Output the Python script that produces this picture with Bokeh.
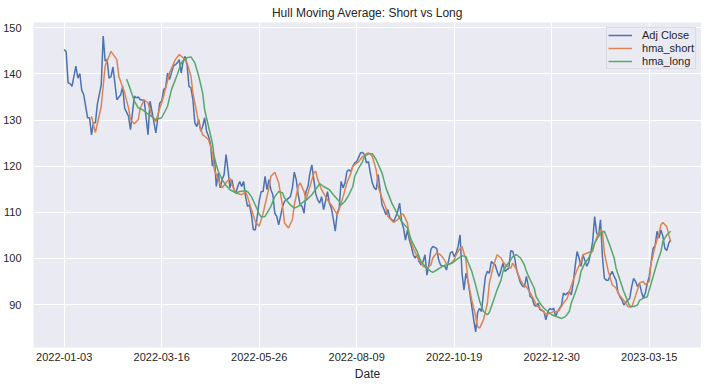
from bokeh.plotting import figure
from bokeh.models import Range1d, FixedTicker, Legend, LegendItem
from bokeh.embed import file_html
from bokeh.resources import INLINE

title_text = "Hull Moving Average: Short vs Long"
x_label = "Date"

tick_pos = [0, 50, 100, 150, 200, 250, 300]
tick_labels = ["2022-01-03", "2022-03-16", "2022-05-26", "2022-08-09",
               "2022-10-19", "2022-12-30", "2023-03-15"]
y_ticks = [90, 100, 110, 120, 130, 140, 150]

close_idx = [0, 1, 2, 3, 4, 6, 7, 8, 9, 10, 12, 13, 14, 15, 16, 17, 19, 20, 21, 22,
             23, 24, 25, 27, 29, 30, 31, 33, 34, 36, 37, 38, 39, 41, 43, 44, 45, 47, 48, 49,
             50, 51, 52, 53, 54, 56, 57, 58, 59, 60, 61, 62, 63, 64, 65, 66, 67, 68, 69, 70,
             71, 72, 73, 74, 75, 76, 77, 78, 79, 80, 81, 82, 83, 84, 85, 86, 87, 88, 89, 90,
             91, 92, 93, 94, 95, 96, 97, 98, 99, 100, 101, 102, 103, 104, 105, 106, 107, 108, 109, 110,
             112, 113, 114, 116, 117, 118, 119, 120, 121, 122, 123, 124, 125, 126, 127, 128, 129, 130, 131, 132,
             133, 134, 135, 136, 137, 138, 139, 140, 141, 142, 143, 144, 145, 146, 147, 148, 149, 150, 152, 153,
             154, 155, 156, 157, 158, 159, 160, 161, 162, 163, 164, 165, 166, 167, 169, 170, 171, 172, 173, 174,
             175, 176, 177, 178, 179, 180, 181, 182, 183, 184, 185, 186, 187, 188, 189, 191, 192, 193, 194, 195,
             196, 197, 198, 199, 200, 201, 202, 203, 204, 205, 206, 207, 208, 209, 210, 211, 212, 213, 214, 215,
             216, 217, 218, 219, 221, 222, 223, 224, 225, 226, 228, 229, 230, 231, 232, 233, 234, 235, 236, 237,
             238, 239, 240, 241, 242, 243, 244, 246, 247, 248, 249, 250, 251, 252, 253, 254, 255, 256, 257, 259,
             260, 261, 262, 263, 264, 265, 266, 268, 269, 270, 271, 272, 273, 274, 275, 276, 277, 278, 279, 280,
             281, 282, 283, 284, 285, 286, 287, 288, 290, 291, 292, 293, 294, 295, 296, 297, 298, 299, 300, 301,
             302, 303, 304, 305, 306, 307, 308, 309, 310, 311]
close_val = [145.3, 144.8, 138.1, 137.9, 137.3, 141.7, 139.1, 140.1, 136.5, 135.5, 130.5, 130.5, 126.8, 129.4, 129.4, 133.4, 137.7, 148.2, 142.8, 143.1,
             139.1, 139.4, 141.5, 134.4, 135.5, 137.3, 132.6, 130.8, 127.9, 135.2, 134.8, 135.0, 134.4, 134.3, 126.8, 134.1, 131.9, 127.2, 130.5, 133.7,
             134.1, 136.6, 137.0, 140.2, 138.8, 141.7, 142.0, 142.4, 143.1, 140.2, 142.8, 143.8, 142.0, 137.3, 137.0, 134.4, 129.4, 128.6, 130.1, 127.6,
             128.6, 130.5, 127.6, 126.5, 125.0, 120.0, 122.1, 115.6, 118.5, 115.3, 117.1, 118.2, 122.5, 119.2, 115.3, 117.1, 114.9, 114.2, 115.6, 116.7,
             115.6, 116.7, 113.4, 111.3, 111.6, 109.5, 106.2, 106.2, 109.1, 112.5, 114.5, 114.5, 117.8, 114.9, 117.1, 114.9, 113.8, 109.8, 109.1, 107.3,
             111.3, 112.4, 112.7, 113.4, 115.3, 118.7, 117.1, 113.8, 111.6, 111.3, 109.8, 114.5, 115.6, 118.5, 120.3, 117.1, 114.0, 112.7, 112.0, 113.4,
             110.6, 112.4, 114.5, 112.0, 110.9, 108.6, 105.9, 109.8, 110.9, 116.7, 115.3, 116.4, 118.9, 119.2, 118.9, 120.0, 120.7, 121.0, 122.9, 123.0,
             122.5, 120.7, 121.0, 118.5, 116.4, 115.3, 114.9, 118.2, 114.9, 111.6, 110.6, 109.5, 110.6, 108.8, 108.0, 109.1, 110.2, 112.0, 108.0, 106.6,
             104.0, 106.2, 104.0, 102.6, 100.8, 100.1, 100.8, 99.3, 98.6, 99.3, 100.8, 96.4, 98.6, 101.9, 102.6, 102.2, 99.7, 98.6, 98.3, 98.5,
             97.5, 99.3, 101.2, 101.5, 100.4, 101.2, 102.6, 105.1, 96.8, 93.2, 96.8, 95.3, 92.5, 89.6, 86.7, 84.1, 88.3, 89.2, 88.5, 92.5,
             96.1, 97.2, 96.8, 99.3, 98.6, 97.2, 96.1, 97.5, 99.0, 97.2, 97.9, 101.7, 101.5, 100.1, 97.5, 96.1, 94.7, 94.0, 93.8, 96.1,
             94.0, 91.7, 91.4, 89.9, 89.6, 90.3, 88.9, 88.5, 86.7, 88.5, 89.2, 88.9, 89.2, 87.4, 88.5, 89.2, 89.9, 92.5, 92.1, 92.8,
             92.1, 94.6, 98.3, 101.5, 100.1, 98.3, 100.8, 98.3, 99.3, 101.2, 103.7, 109.1, 105.6, 104.8, 108.4, 100.4, 95.7, 95.3, 95.3, 96.4,
             97.2, 96.1, 95.3, 92.6, 91.7, 91.0, 89.9, 90.5, 91.4, 93.9, 95.7, 95.0, 93.9, 94.6, 92.8, 91.4, 92.5, 94.6, 96.1, 99.3,
             102.2, 102.7, 105.9, 104.4, 106.2, 104.8, 102.2, 101.7, 103.3, 104.0]

short_idx = [14, 16, 19, 21, 24, 27, 28, 31, 33, 34, 36, 38, 39, 41, 43, 45, 47, 51, 54, 57,
             59, 61, 63, 65, 66, 69, 71, 72, 74, 76, 77, 79, 81, 83, 85, 86, 88, 91, 93, 94,
             96, 98, 100, 102, 105, 106, 108, 110, 112, 113, 115, 117, 118, 120, 121, 123, 124, 126, 128, 129,
             130, 132, 134, 135, 137, 139, 140, 141, 143, 145, 147, 148, 151, 153, 155, 156, 158, 160, 161, 163,
             165, 166, 169, 171, 173, 174, 176, 177, 179, 181, 183, 184, 186, 188, 189, 191, 193, 195, 196, 198,
             200, 201, 203, 204, 206, 207, 209, 211, 212, 213, 215, 217, 218, 220, 222, 224, 225, 227, 229, 230,
             232, 234, 236, 237, 239, 241, 242, 244, 246, 247, 249, 251, 253, 254, 256, 258, 259, 261, 263, 265,
             266, 269, 271, 272, 274, 275, 276, 277, 279, 281, 283, 284, 286, 288, 289, 291, 292, 294, 295, 297,
             298, 300, 301, 303, 305, 306, 307, 309, 310, 311]
short_val = [130.8, 127.3, 133.0, 141.7, 144.9, 143.1, 139.5, 135.9, 132.6, 130.1, 129.2, 130.1, 132.6, 134.4, 133.7, 130.8, 129.7, 135.2, 140.2, 143.1,
             144.2, 143.5, 142.4, 139.5, 135.9, 129.4, 126.8, 126.5, 125.8, 122.9, 119.2, 117.1, 115.3, 116.4, 117.4, 116.0, 114.2, 113.8, 114.5, 113.4,
             110.6, 108.0, 107.0, 109.8, 115.3, 117.8, 118.7, 116.4, 111.3, 107.7, 106.6, 108.4, 111.6, 115.6, 116.4, 114.5, 112.7, 115.6, 118.5, 118.9,
             117.1, 114.9, 113.4, 112.7, 111.6, 110.2, 109.5, 110.6, 113.4, 116.4, 118.5, 120.0, 121.0, 122.1, 122.7, 122.9, 122.1, 119.2, 115.6, 113.1,
             110.9, 109.1, 107.8, 108.4, 109.7, 109.5, 107.7, 104.8, 102.2, 100.4, 99.0, 98.3, 97.9, 98.6, 100.1, 101.2, 100.8, 99.7, 98.8, 98.8,
             99.7, 100.8, 102.2, 102.6, 99.7, 95.3, 91.0, 87.4, 85.2, 84.9, 86.7, 90.3, 94.6, 98.3, 100.8, 100.1, 99.3, 98.3, 97.9, 99.0,
             97.5, 95.3, 93.9, 93.9, 92.5, 91.0, 89.9, 89.2, 88.5, 87.8, 88.1, 88.5, 88.5, 88.9, 90.3, 91.4, 92.8, 95.3, 97.5, 99.3,
             100.8, 101.3, 101.5, 103.3, 105.5, 106.2, 105.9, 101.2, 97.2, 94.3, 93.6, 92.5, 91.4, 90.3, 89.6, 89.4, 90.7, 93.2, 94.7, 95.0,
             94.3, 95.0, 99.0, 102.6, 105.5, 107.3, 107.8, 106.9, 105.1, 103.7]

long_idx = [32, 34, 36, 38, 40, 42, 44, 47, 50, 53, 55, 58, 60, 63, 65, 67, 69, 71, 72, 74,
            76, 77, 79, 81, 83, 85, 88, 90, 93, 94, 96, 98, 100, 101, 103, 106, 108, 110, 112, 113,
            116, 118, 120, 123, 124, 127, 130, 131, 133, 136, 138, 141, 142, 144, 146, 148, 149, 151, 153, 154,
            156, 158, 160, 163, 165, 168, 171, 173, 176, 178, 181, 183, 186, 188, 189, 191, 194, 196, 199, 201,
            204, 206, 207, 209, 211, 213, 214, 215, 217, 218, 220, 222, 224, 225, 227, 229, 230, 232, 234, 236,
            237, 239, 241, 242, 244, 246, 248, 250, 253, 255, 257, 259, 260, 262, 264, 265, 267, 269, 272, 275,
            277, 278, 280, 282, 283, 285, 287, 289, 290, 292, 294, 295, 297, 299, 300, 302, 304, 306, 307, 309,
            311]
long_val = [138.9, 136.6, 134.1, 132.6, 132.3, 131.6, 131.0, 130.1, 130.5, 133.0, 136.6, 139.9, 142.4, 143.5, 143.7, 142.4, 139.5, 135.9, 132.3, 128.6,
            125.0, 121.8, 118.9, 117.1, 115.8, 114.9, 114.2, 114.5, 114.7, 114.5, 113.4, 111.6, 109.6, 109.0, 109.1, 111.3, 113.4, 114.5, 114.2, 113.1,
            111.6, 110.9, 111.3, 112.4, 112.6, 113.8, 115.6, 116.2, 115.6, 114.9, 113.8, 112.4, 111.6, 112.4, 113.8, 115.6, 117.8, 119.6, 121.0, 122.1,
            122.7, 122.7, 121.4, 118.5, 115.3, 112.0, 109.5, 108.0, 106.6, 104.0, 101.5, 99.3, 97.9, 97.2, 97.0, 97.5, 98.3, 98.6, 99.0, 99.7,
            100.6, 100.4, 99.3, 97.2, 94.2, 90.8, 89.6, 88.5, 87.8, 88.3, 90.7, 93.2, 95.3, 97.2, 98.6, 99.7, 100.4, 100.8, 100.1, 98.6,
            97.2, 95.3, 93.6, 91.7, 90.3, 89.2, 88.5, 87.8, 87.3, 87.0, 87.4, 88.5, 90.3, 92.5, 95.0, 97.2, 99.0, 100.1, 103.3, 105.5,
            105.9, 104.8, 102.6, 100.1, 97.9, 95.3, 92.8, 90.7, 89.7, 89.6, 89.9, 90.9, 91.4, 91.7, 93.2, 96.1, 99.0, 101.5, 103.7, 105.1,
            105.9]

FONT = "Liberation Sans"
TXT = "#262626"

p = figure(frame_width=668, frame_height=325, output_backend="svg", toolbar_location=None,
           x_range=Range1d(-15.74, 326.8), y_range=Range1d(80.7, 151.15),
           background_fill_color="#eaeaf2", border_fill_color="white",
           min_border_left=0, min_border_right=0, min_border_top=0, min_border_bottom=0)
p.outline_line_color = None

p.title.text = title_text
p.title.align = "center"
p.title.text_font = FONT
p.title.text_font_size = "12px"
p.title.text_font_style = "normal"
p.title.text_color = TXT
p.title.standoff = 6
p.title.offset = 0

p.xgrid.grid_line_color = "white"
p.ygrid.grid_line_color = "white"
p.xgrid.grid_line_width = 1
p.ygrid.grid_line_width = 1

p.xaxis.ticker = FixedTicker(ticks=tick_pos)
p.xaxis.major_label_overrides = {t: s for t, s in zip(tick_pos, tick_labels)}
p.yaxis.ticker = FixedTicker(ticks=y_ticks)
for ax in (p.xaxis[0], p.yaxis[0]):
    ax.axis_line_color = None
    ax.major_tick_line_color = None
    ax.minor_tick_line_color = None
    ax.major_tick_out = 0
    ax.major_tick_in = 0
    ax.minor_tick_out = 0
    ax.minor_tick_in = 0
    ax.major_label_text_font = FONT
    ax.major_label_text_font_size = "11px"
    ax.major_label_text_color = TXT
p.xaxis.major_label_standoff = 5
p.yaxis.major_label_standoff = 12
p.xaxis.axis_label = x_label
p.xaxis.axis_label_text_font = FONT
p.xaxis.axis_label_text_font_size = "12px"
p.xaxis.axis_label_text_font_style = "normal"
p.xaxis.axis_label_text_color = TXT
p.xaxis.axis_label_standoff = 3

r1 = p.line(close_idx, close_val, line_color="#4c72b0", line_width=1.5)
r2 = p.line(short_idx, short_val, line_color="#dd8452", line_width=1.5)
r3 = p.line(long_idx, long_val, line_color="#55a868", line_width=1.5)

legend = Legend(items=[LegendItem(label="Adj Close", renderers=[r1]),
                       LegendItem(label="hma_short", renderers=[r2]),
                       LegendItem(label="hma_long", renderers=[r3])],
                location="top_right", margin=5, padding=1, spacing=1,
                label_height=12, glyph_height=12, glyph_width=24, label_standoff=10,
                label_text_font=FONT, label_text_font_size="11px", label_text_color=TXT,
                background_fill_color="#eaeaf2", background_fill_alpha=0.8,
                border_line_color="#cccccc", border_line_width=1)
p.add_layout(legend)

open("out.html", "w").write(file_html(p, INLINE))
